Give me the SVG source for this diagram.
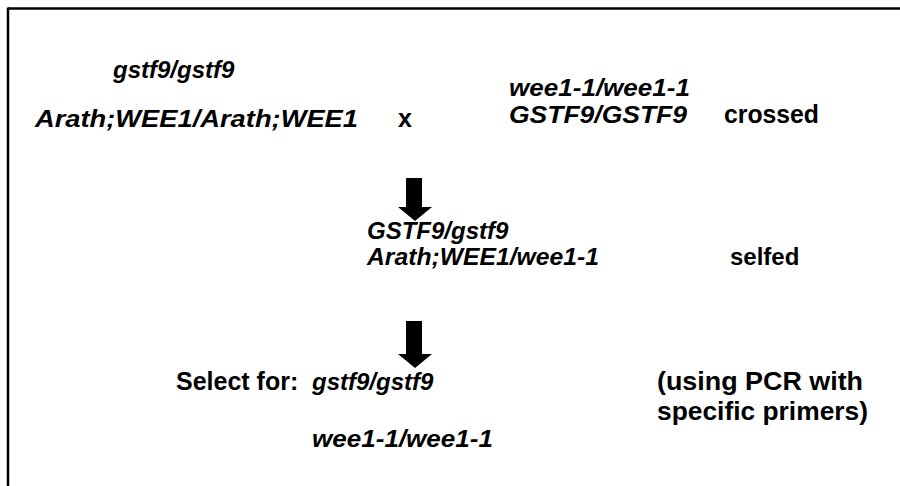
<svg xmlns="http://www.w3.org/2000/svg" width="900" height="486" viewBox="0 0 900 486">
  <style>
    .t { font-family: "Liberation Sans", Arial, sans-serif; font-size: 24px; font-weight: bold; fill: #000; }
    .g { font-style: italic; }
    .n { font-size: 25px; }
    .frame { stroke: #000; stroke-width: 2.5; fill: none; }
    .arrow { fill: #000; stroke: none; }
  </style>
  <rect width="900" height="486" fill="#fff"/>

  <!-- frame: top and left edges -->
  <g id="frame">
    <line class="frame" x1="8" y1="8.5" x2="900" y2="8.5"/>
    <line class="frame" x1="8" y1="7.5" x2="8" y2="486"/>
  </g>

  <g id="parent-gstf9">
    <text class="t g" x="113" y="78">gstf9/gstf9</text>
    <text class="t g" x="35" y="127" textLength="323" lengthAdjust="spacingAndGlyphs">Arath;WEE1/Arath;WEE1</text>
  </g>

  <g id="cross-sign">
    <text class="t n" x="398" y="127">x</text>
  </g>

  <g id="parent-wee1">
    <text class="t g" x="509" y="96" textLength="181" lengthAdjust="spacingAndGlyphs">wee1-1/wee1-1</text>
    <text class="t g" x="509" y="123" textLength="178" lengthAdjust="spacingAndGlyphs">GSTF9/GSTF9</text>
    <text class="t n" x="724" y="123" textLength="95" lengthAdjust="spacingAndGlyphs">crossed</text>
  </g>

  <g id="f1">
    <text class="t g" x="367" y="239">GSTF9/gstf9</text>
    <text class="t g" x="367" y="265" textLength="232" lengthAdjust="spacingAndGlyphs">Arath;WEE1/wee1-1</text>
    <text class="t" x="730" y="265">selfed</text>
  </g>

  <g id="selection">
    <text class="t n" x="176" y="390">Select for:</text>
    <text class="t g" x="312" y="390">gstf9/gstf9</text>
    <text class="t g" x="312" y="447" textLength="181" lengthAdjust="spacingAndGlyphs">wee1-1/wee1-1</text>
  </g>

  <g id="method">
    <text class="t n" x="657" y="390" textLength="206" lengthAdjust="spacingAndGlyphs">(using PCR with</text>
    <text class="t n" x="657" y="420" textLength="211" lengthAdjust="spacingAndGlyphs">specific primers)</text>
  </g>

  <!-- block arrows between generations -->
  <g id="connectors">
    <polygon class="arrow" points="406,178 422,178 422,207 432,207 415,221 398,207 406,207"/>
    <polygon class="arrow" points="406,321 422,321 422,354 432,354 415,368 398,354 406,354"/>
  </g>
</svg>
